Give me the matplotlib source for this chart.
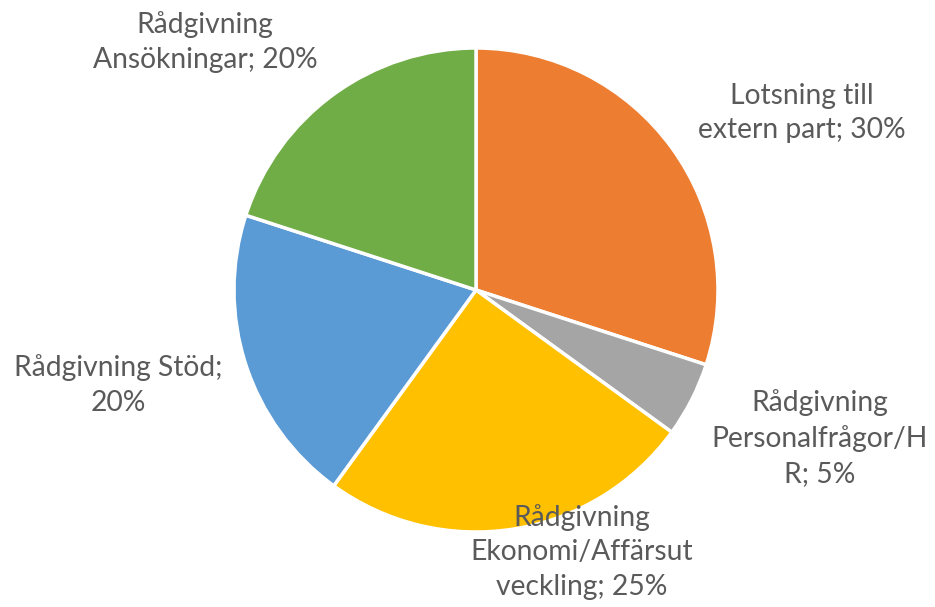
import matplotlib.pyplot as plt

# data
categories = ['Lotsning till\nextern part', 'Rådgivning\nPersonalfrågor/H\nR',
              'Rådgivning\nEkonomi/Affärsut\nveckling', 'Rådgivning Stöd;\n',
              'Rådgivning\nAnsökningar']
shares = [30, 5, 25, 20, 20]
colors = ['#ED7D31', '#A5A5A5', '#FFC000', '#5B9BD5', '#70AD47']

# label centres in pixel coords (x, y from top)
label_pos = [(802, 113), (820, 438), (582, 552), (118, 385), (205, 42)]

fig = plt.figure(figsize=(9.35, 6.07), dpi=100)
ax = fig.add_axes([0, 0, 1, 1])

ax.pie(shares, colors=colors, startangle=90, counterclock=False,
       center=(476, 317), radius=242,
       wedgeprops=dict(edgecolor='white', linewidth=2.5))

# pie() resets the limits, so set them afterwards
ax.set_xlim(0, 935)
ax.set_ylim(0, 607)
ax.set_aspect('equal')
ax.axis('off')

for cat, val, (x, y) in zip(categories, shares, label_pos):
    if cat.endswith(';\n'):
        txt = f'{cat}{val}%'
    else:
        txt = f'{cat}; {val}%'
    ax.text(x, 607 - y, txt, ha='center', va='center', fontsize=20.3,
            family='Lato', color='#5a5a5a', linespacing=1.42)

fig.savefig('out.png', dpi=100)
